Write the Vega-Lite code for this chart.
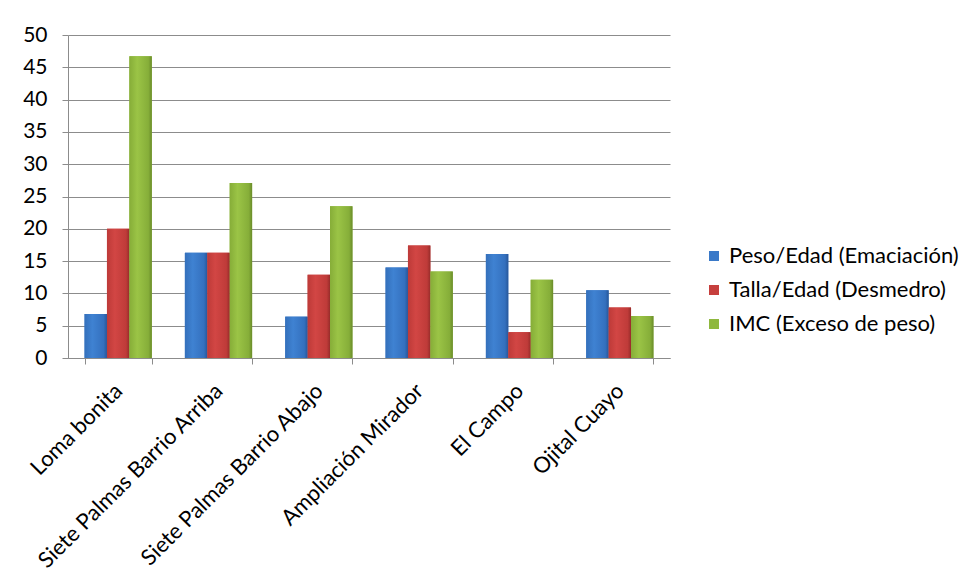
{
  "$schema": "https://vega.github.io/schema/vega-lite/v6.json",
  "autosize": {"type": "none"},
  "padding": {"left": 68, "top": 35, "right": 303, "bottom": 229},
  "width": 602,
  "height": 323,
  "background": "white",
  "data": {
    "values": [
      {"lugar": "Loma bonita", "indicador": "Peso/Edad (Emaciación)", "valor": 6.8},
      {"lugar": "Loma bonita", "indicador": "Talla/Edad (Desmedro)", "valor": 20.0},
      {"lugar": "Loma bonita", "indicador": "IMC (Exceso de peso)", "valor": 46.7},
      {"lugar": "Siete Palmas Barrio Arriba", "indicador": "Peso/Edad (Emaciación)", "valor": 16.3},
      {"lugar": "Siete Palmas Barrio Arriba", "indicador": "Talla/Edad (Desmedro)", "valor": 16.3},
      {"lugar": "Siete Palmas Barrio Arriba", "indicador": "IMC (Exceso de peso)", "valor": 27.1},
      {"lugar": "Siete Palmas Barrio Abajo", "indicador": "Peso/Edad (Emaciación)", "valor": 6.4},
      {"lugar": "Siete Palmas Barrio Abajo", "indicador": "Talla/Edad (Desmedro)", "valor": 12.9},
      {"lugar": "Siete Palmas Barrio Abajo", "indicador": "IMC (Exceso de peso)", "valor": 23.5},
      {"lugar": "Ampliación Mirador", "indicador": "Peso/Edad (Emaciación)", "valor": 14.0},
      {"lugar": "Ampliación Mirador", "indicador": "Talla/Edad (Desmedro)", "valor": 17.4},
      {"lugar": "Ampliación Mirador", "indicador": "IMC (Exceso de peso)", "valor": 13.4},
      {"lugar": "El Campo", "indicador": "Peso/Edad (Emaciación)", "valor": 16.1},
      {"lugar": "El Campo", "indicador": "Talla/Edad (Desmedro)", "valor": 4.0},
      {"lugar": "El Campo", "indicador": "IMC (Exceso de peso)", "valor": 12.1},
      {"lugar": "Ojital Cuayo", "indicador": "Peso/Edad (Emaciación)", "valor": 10.5},
      {"lugar": "Ojital Cuayo", "indicador": "Talla/Edad (Desmedro)", "valor": 7.8},
      {"lugar": "Ojital Cuayo", "indicador": "IMC (Exceso de peso)", "valor": 6.5}
    ]
  },
  "encoding": {
    "x": {
      "field": "lugar",
      "type": "nominal",
      "title": null,
      "scale": {
        "domain": ["Loma bonita", "Siete Palmas Barrio Arriba", "Siete Palmas Barrio Abajo", "Ampliación Mirador", "El Campo", "Ojital Cuayo"],
        "paddingInner": 0.33,
        "paddingOuter": 0.165
      },
      "axis": {
        "tickBand": "extent",
        "labelAngle": -45,
        "labelAlign": "right",
        "labelBaseline": "middle",
        "labelPadding": 23,
        "tickSize": 6,
        "tickColor": "#8c8c8c",
        "domainColor": "#8c8c8c",
        "labelFont": "Lato",
        "labelFontSize": 22,
        "labelColor": "#000000",
        "grid": false,
        "labelLimit": 0
      }
    },
    "xOffset": {
      "field": "indicador",
      "type": "nominal",
      "scale": {
        "domain": ["Peso/Edad (Emaciación)", "Talla/Edad (Desmedro)", "IMC (Exceso de peso)"],
        "paddingInner": 0,
        "paddingOuter": 0
      }
    },
    "y": {
      "field": "valor",
      "type": "quantitative",
      "title": null,
      "scale": {"domain": [0, 50], "nice": false},
      "axis": {
        "values": [0, 5, 10, 15, 20, 25, 30, 35, 40, 45, 50],
        "grid": true,
        "gridColor": "#8c8c8c",
        "gridWidth": 1,
        "tickSize": 6,
        "tickColor": "#8c8c8c",
        "domainColor": "#8c8c8c",
        "labelPadding": 15,
        "labelFont": "Lato",
        "labelFontSize": 21,
        "labelColor": "#000000"
      }
    }
  },
  "layer": [
    {
      "mark": {"type": "bar"},
      "encoding": {
        "color": {
          "field": "indicador",
          "type": "nominal",
          "scale": {
            "domain": ["Peso/Edad (Emaciación)", "Talla/Edad (Desmedro)", "IMC (Exceso de peso)"],
            "range": ["#3a79c8", "#c63f3d", "#8fb83e"]
          },
          "legend": {
            "title": null,
            "orient": "none",
            "legendX": 635,
            "legendY": 210,
            "symbolType": "square",
            "symbolSize": 100,
            "symbolStrokeWidth": 0,
            "labelFont": "Lato",
            "labelFontSize": 22,
            "labelColor": "#000000",
            "labelLimit": 0,
            "rowPadding": 12,
            "labelOffset": 4
          }
        }
      }
    },
    {
      "transform": [{"filter": "datum.indicador === 'Peso/Edad (Emaciación)'"}],
      "mark": {
        "type": "bar",
        "fill": {"gradient": "linear", "x1": 0, "x2": 1, "y1": 0, "y2": 0, "stops": [
          {"offset": 0, "color": "#3470bb"}, {"offset": 0.35, "color": "#3f82d2"},
          {"offset": 0.85, "color": "#3470be"}, {"offset": 1, "color": "#27579a"}]}
      }
    },
    {
      "transform": [{"filter": "datum.indicador === 'Talla/Edad (Desmedro)'"}],
      "mark": {
        "type": "bar",
        "fill": {"gradient": "linear", "x1": 0, "x2": 1, "y1": 0, "y2": 0, "stops": [
          {"offset": 0, "color": "#bd3a38"}, {"offset": 0.35, "color": "#d24644"},
          {"offset": 0.85, "color": "#bf3b39"}, {"offset": 1, "color": "#972c2a"}]}
      }
    },
    {
      "transform": [{"filter": "datum.indicador === 'IMC (Exceso de peso)'"}],
      "mark": {
        "type": "bar",
        "fill": {"gradient": "linear", "x1": 0, "x2": 1, "y1": 0, "y2": 0, "stops": [
          {"offset": 0, "color": "#86ad38"}, {"offset": 0.35, "color": "#9bc446"},
          {"offset": 0.85, "color": "#86ae39"}, {"offset": 1, "color": "#6a8c2a"}]}
      }
    }
  ],
  "config": {
    "view": {"stroke": null},
    "axis": {"domainWidth": 1}
  }
}
